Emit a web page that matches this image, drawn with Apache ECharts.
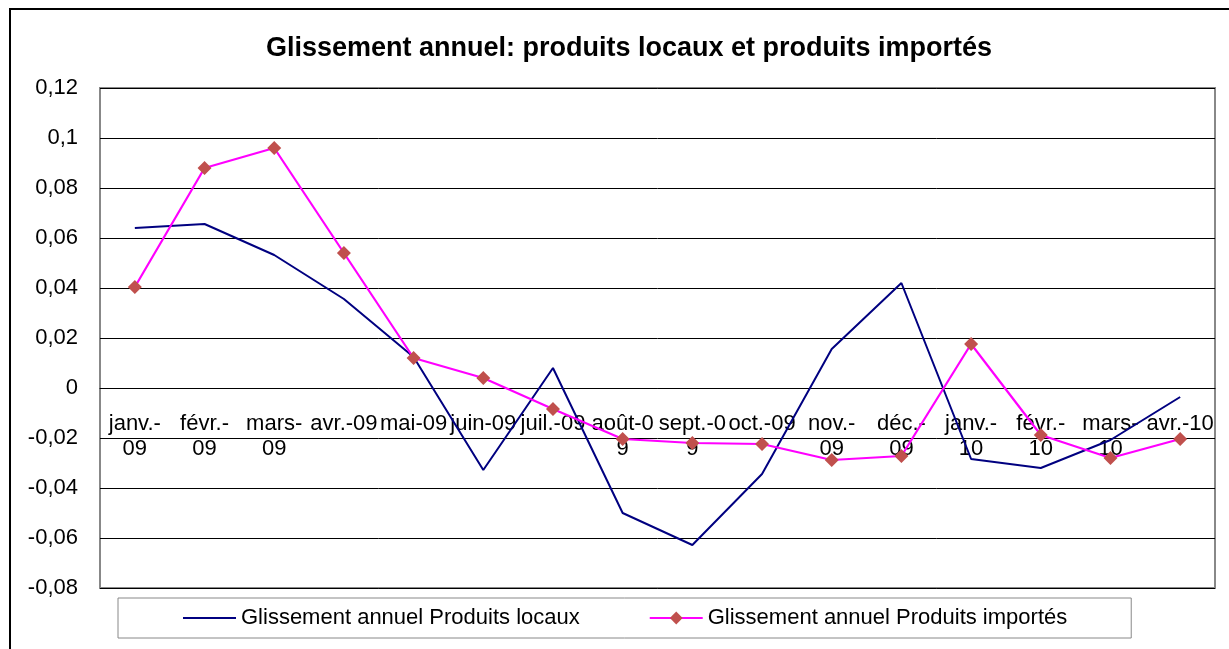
<!DOCTYPE html>
<html><head><meta charset="utf-8">
<script src="https://cdn.jsdelivr.net/npm/echarts@6/dist/echarts.min.js"></script>
<style>html,body{margin:0;padding:0;background:#fff}#c{width:1229px;height:649px}</style>
</head><body><div id="c"></div>
<script>
const categories = ["janv.-\n09","févr.-\n09","mars-\n09","avr.-09","mai-09","juin-09","juil.-09","août-0\n9","sept.-0\n9","oct.-09","nov.-\n09","déc.-\n09","janv.-\n10","févr.-\n10","mars-\n10","avr.-10"];
const produitsLocaux = [0.064,0.0656,0.0532,0.0356,0.0124,-0.0328,0.008,-0.05,-0.0628,-0.0344,0.0156,0.042,-0.0284,-0.032,-0.0208,-0.0036];
const produitsImportes = [0.0404,0.088,0.096,0.054,0.012,0.004,-0.0084,-0.0204,-0.022,-0.0224,-0.0288,-0.0272,0.0176,-0.0188,-0.028,-0.0204];
const seriesNames = ["Glissement annuel Produits locaux","Glissement annuel Produits importés"];
const titleText = "Glissement annuel: produits locaux et produits importés";

const chart = echarts.init(document.getElementById('c'), null, {renderer:'canvas'});
const font = 'Liberation Sans, Arial, sans-serif';
chart.setOption({
  animation:false,
  backgroundColor:'#fff',
  textStyle:{fontFamily:font},
  graphic:[{type:'rect',shape:{x:10,y:9,width:1240,height:660},style:{fill:'none',stroke:'#000',lineWidth:2},silent:true}],
  title:{text:titleText,left:261,top:30,textStyle:{fontFamily:font,fontSize:27,fontWeight:'bold',color:'#000'}},
  grid:{left:100,right:14,top:88,bottom:61,show:true,borderColor:'#888',borderWidth:2,outerBoundsMode:'none'},
  legend:{left:118,top:598,padding:[9,64,9,64],itemGap:69,itemWidth:53,itemHeight:16,borderColor:'#888',borderWidth:1,
    textStyle:{fontFamily:font,fontSize:22,color:'#000'},
    data:[{name:seriesNames[0],itemStyle:{opacity:0}},seriesNames[1]]},
  xAxis:{type:'category',data:categories,boundaryGap:true,offset:-200,
    axisLine:{onZero:false,lineStyle:{color:'#000',width:1}},axisTick:{show:false},
    axisLabel:{margin:23,fontSize:22,color:'#000',fontFamily:font,lineHeight:25,interval:0},
    splitLine:{show:false}},
  yAxis:{type:'value',min:-0.08,max:0.12,interval:0.02,
    axisLine:{show:false,onZero:false},axisTick:{show:false},
    axisLabel:{fontSize:22,color:'#000',fontFamily:font,margin:22,
      formatter:v=>String(Math.round(v*100)/100).replace('.',',')},
    splitLine:{lineStyle:{color:'#000',width:1}}},
  series:[
    {name:seriesNames[0],type:'line',data:produitsLocaux,symbol:'none',lineStyle:{color:'#000080',width:2},itemStyle:{color:'#000080'}},
    {name:seriesNames[1],type:'line',data:produitsImportes,symbol:'diamond',symbolSize:14,showSymbol:true,
      lineStyle:{color:'#FF00FF',width:2.2},itemStyle:{color:'#C0504D'}}
  ]
});
</script></body></html>
